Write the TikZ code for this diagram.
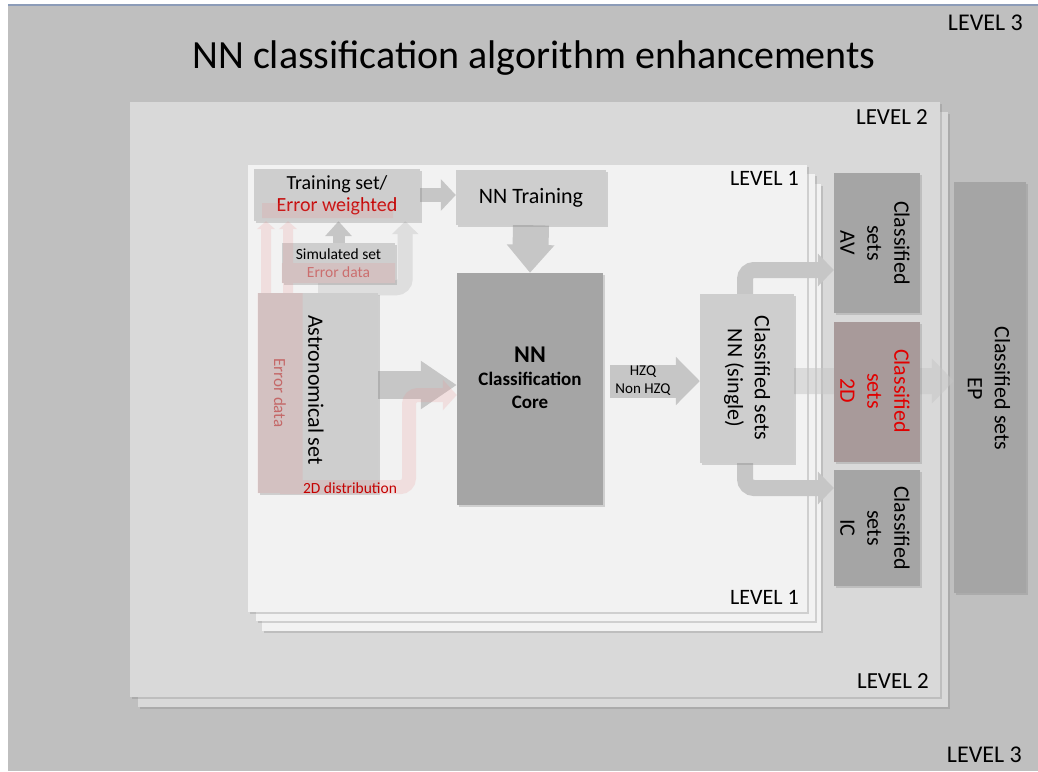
\documentclass[tikz,border=0pt]{standalone}
\usepackage{fontspec}
\setmainfont{Carlito}
\usetikzlibrary{arrows.meta,shadows}
\pgfdeclarelayer{bg}
\pgfdeclarelayer{mid}
\pgfsetlayers{bg,mid,main}

\definecolor{levelthree}{RGB}{191,191,191}
\definecolor{leveltwo}{RGB}{217,217,217}
\definecolor{levelone}{RGB}{242,242,242}
\definecolor{boxgray}{RGB}{206,206,206}
\definecolor{coregray}{RGB}{165,165,165}
\definecolor{arrgray}{RGB}{198,198,198}
\definecolor{arrlight}{RGB}{222,222,222}
\definecolor{errred}{RGB}{196,0,0}
\definecolor{errpink}{RGB}{196,104,104}
\definecolor{pinkish}{RGB}{236,140,140}
\definecolor{twodfill}{RGB}{168,154,154}
\definecolor{twodred}{RGB}{225,0,0}
\definecolor{topline}{RGB}{140,156,184}

\newcommand{\fsz}[2]{\fontsize{#1}{#2}\selectfont}

\begin{document}
\begin{tikzpicture}[x=1pt,y=-1pt,
    softshadow/.style={drop shadow={shadow xshift=1.5pt,shadow yshift=-1.5pt,opacity=.3}},
    box/.style={fill=boxgray,inner sep=0pt,softshadow},
    darkbox/.style={box,fill=coregray},
    vtext/.style={rotate=-90,align=center,inner sep=0pt,font=\fsz{22}{27}},
    lvl/.style={anchor=base east,inner sep=0pt},
    blockarrow/.style n args={3}{draw=arrgray,line width=#1,-{Triangle[width=#2,length=#3]}}]
  \useasboundingbox (0,0) rectangle (1038,771);

  % level sheets
  \begin{pgfonlayer}{bg}
    \fill[white] (0,0) rectangle (1038,771);
    \fill[levelthree] (8,6) rectangle (1038,771);
    \draw[topline,line width=2pt] (8,5) -- (1038,5);
    \fill[leveltwo,softshadow] (138,112) rectangle (948,707);
    \fill[leveltwo,softshadow] (130,102) rectangle (940,697);
    \foreach \dx/\dy in {14/19,8/9,0/0}
      \fill[levelone,softshadow] ({248+\dx},{165+\dy}) rectangle ({807+\dx},{612+\dy});
  \end{pgfonlayer}

  \node[anchor=base,inner sep=0pt,font=\fsz{40}{48}] (title) at (534,68) {NN classification algorithm enhancements};
  \node[lvl,font=\fsz{24}{28}] (lthreetop) at (1023,30) {LEVEL 3};
  \node[lvl,font=\fsz{24}{28}] (lthreebot) at (1022,762) {LEVEL 3};
  \node[lvl,font=\fsz{23}{28}] (ltwotop) at (928,124) {LEVEL 2};
  \node[lvl,font=\fsz{23}{28}] (ltwobot) at (929,688) {LEVEL 2};
  \node[lvl,font=\fsz{22}{26}] (lonetop) at (799,185) {LEVEL 1};
  \node[lvl,font=\fsz{22}{26}] (lonebot) at (799,604) {LEVEL 1};

  % boxes
  \node[box,minimum width=166pt,minimum height=52pt,align=center,font=\fsz{20}{22}] (train) at (337,195)
    {Training set/\\\textcolor{errred}{Error weighted}};
  \node[box,minimum width=150pt,minimum height=55pt,font=\fsz{22}{26}] (nntrain) at (531,197.5) {NN Training};
  \node[darkbox,minimum width=146pt,minimum height=232pt] (core) at (530,389) {};
  \node[align=center,font=\bfseries\fsz{19}{23}] (coretext) at (530,378) {{\fsz{24}{26}NN}\\Classification\\Core};
  \node[box,minimum width=113pt,minimum height=40pt,align=center,font=\fsz{15.5}{18}] (sim) at (338.5,263)
    {Simulated set\\\textcolor{errpink}{Error data}};
  \node[box,minimum width=120pt,minimum height=200pt] (astro) at (318,393) {};
  \node[vtext,font=\fsz{22}{26}] (astrotext) at (316,390) {Astronomical set};
  \node[box,minimum width=94pt,minimum height=169pt] (single) at (747,378.5) {};
  \node[vtext] (singletext) at (747,378) {Classified sets\\NN (single)};
  \node[darkbox,minimum width=86pt,minimum height=140pt] (av) at (877,243) {};
  \node[vtext] (avtext) at (875,243) {Classified\\sets\\AV};
  \node[darkbox,fill=twodfill,minimum width=86pt,minimum height=140pt] (twod) at (877,392) {};
  \node[vtext,text=twodred] (twodtext) at (875,391) {Classified\\sets\\2D};
  \node[darkbox,minimum width=86pt,minimum height=116pt] (ic) at (877,528) {};
  \node[vtext] (ictext) at (875,528) {Classified\\sets\\IC};
  \node[darkbox,minimum width=72pt,minimum height=411pt] (ep) at (990,387.5) {};
  \node[vtext] (eptext) at (989,388.5) {Classified sets\\EP};

  \coordinate (hzqline) at (650,381);
  \coordinate (distbend) at (409,395);

  % gray arrows
  \begin{pgfonlayer}{mid}
    \draw[blockarrow={14pt}{31pt}{15pt}] (train.east) -- (train.east -| nntrain.west);
    \draw[blockarrow={36pt}{46pt}{28pt}] (nntrain.south) -- (core.north);
    \draw[blockarrow={12pt}{26pt}{15pt}] (sim.north) -- (sim.north |- train.south);
    \draw[blockarrow={15pt}{26pt}{13pt},draw=arrlight,rounded corners=9pt]
      ([yshift=5pt]astro.north) -| ([xshift=-15pt]train.south east);
    \draw[blockarrow={28pt}{46pt}{36pt}] ([yshift=8pt]astro.east) -- ([yshift=8pt]astro.east -| core.west);
    \draw[blockarrow={33pt}{47pt}{24pt},shorten <=7pt] (hzqline -| core.east) -- (hzqline -| single.west);
    \draw[blockarrow={16pt}{32pt}{16pt},rounded corners=9pt] ([xshift=-2pt]single.north) |- ([yshift=-27pt]av.west);
    \draw[blockarrow={16pt}{32pt}{16pt},rounded corners=9pt] ([xshift=-2pt]single.south) |- ([yshift=40pt]ic.west);
    \begin{scope}[transparency group,opacity=.5]
      \draw[blockarrow={26pt}{44pt}{22pt}] (hzqline -| single.east) -- (hzqline -| ep.west);
    \end{scope}
  \end{pgfonlayer}

  % error data (pink)
  \begin{scope}[transparency group,opacity=.19]
    \node[fill=pinkish,inner sep=0pt,minimum width=45pt,minimum height=200pt] (errcol) at (280,393) {};
    \fill[pinkish] (sim.west) rectangle (sim.south east);
    \fill[pinkish] (262,203) rectangle (393,218);
    \draw[blockarrow={10pt}{18pt}{8pt},draw=pinkish] ([xshift=-14pt]errcol.north) -- ([xshift=-14pt]errcol.north |- train.south);
    \draw[blockarrow={10pt}{18pt}{8pt},draw=pinkish] ([xshift=8pt]errcol.north) -- ([xshift=8pt]errcol.north |- train.south);
    \draw[blockarrow={14pt}{30pt}{14pt},draw=pinkish,rounded corners=9pt]
      ([yshift=6pt]errcol.south) -| (distbend) -- (distbend -| core.west);
  \end{scope}
  \node[vtext,font=\fsz{17}{20},text=errpink] (errtext) at (280,393) {Error data};
  \node[font=\fsz{15.5}{18},text=errred,inner sep=0pt] (distlabel) at (350,488) {2D distribution};
  \node[align=center,font=\fsz{15}{18},inner sep=0pt] (hzq) at (643,381) {HZQ\\Non HZQ};
\end{tikzpicture}
\end{document}
